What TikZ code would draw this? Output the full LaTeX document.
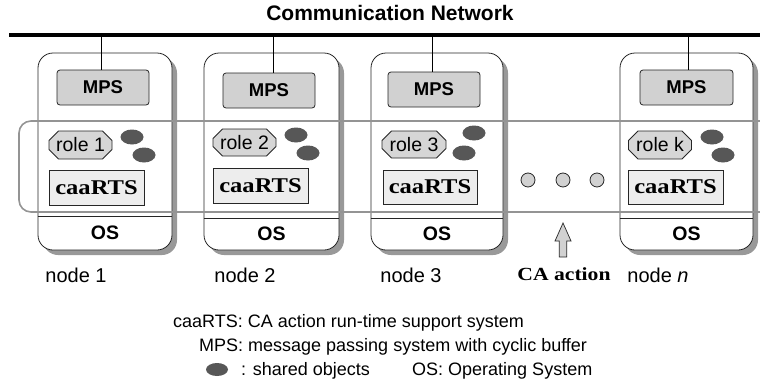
\documentclass[tikz,border=0pt]{standalone}
\usepackage{fontspec}
\setmainfont{Liberation Sans}
\newfontfamily\wideserif[FakeStretch=1.17]{Liberation Serif}
\usetikzlibrary{shapes.misc,shapes.geometric,shadows}

\newcommand{\fs}[1]{\fontsize{#1}{#1}\selectfont}

\begin{document}
\begin{tikzpicture}[x=1pt,y=-1pt,
  edge/.style={draw=black!85, line width=0.8pt},
  nodebox/.style={edge, fill=white, rounded corners=15pt, inner sep=0pt,
    minimum width=#1, minimum height=197pt,
    drop shadow={shadow xshift=5pt, shadow yshift=-5pt, fill=black!40, opacity=1}},
  mpsbox/.style={edge, fill=black!18, rounded corners=3pt, inner sep=0pt,
    minimum width=92pt, minimum height=35pt, font=\bfseries\fs{18.5}},
  rolebox/.style={edge, fill=black!16, chamfered rectangle, chamfered rectangle xsep=6pt,
    inner sep=0pt, minimum width=63pt, minimum height=28pt, font=\fs{19.5}},
  sharedobj/.style={ellipse, fill=black!66, inner sep=0pt, minimum width=23pt, minimum height=15pt},
  rtsbox/.style={edge, fill=black!7, inner sep=0pt, minimum width=95pt, minimum height=35pt,
    font=\wideserif\bfseries\fs{21}},
  ostext/.style={inner sep=0pt, font=\bfseries\fs{19.5}},
  nodelabel/.style={anchor=base, inner sep=0pt, font=\fs{20}},
  legendtext/.style={anchor=base west, inner sep=0pt, font=\fs{18}},
  waitdot/.style={circle, edge, fill=black!18, minimum size=14pt, inner sep=0pt},
  boundary/.style={draw=black!42, line width=1.6pt, rounded corners=12pt},
  link/.style={draw=black, line width=0.8pt}
]
\useasboundingbox (0,0) rectangle (760,383);

% title and network bus
\node[anchor=base, inner sep=0pt, font=\bfseries\fs{21}] (title) at (390,20) {Communication Network};
\coordinate (netL) at (9,34.5);
\coordinate (netR) at (760,34.5);
\draw[line width=4pt] (netL) -- (netR);

% node frames
\node[nodebox=134pt] (n1) at (105,151.5) {};
\node[nodebox=135pt] (n2) at (271.5,151.5) {};
\node[nodebox=132pt] (n3) at (437,151.5) {};
\node[nodebox=133pt] (n4) at (686.5,151.5) {};

% OS separators
\draw[edge] (n1.west |- 0,216) -- (n1.east |- 0,216);
\draw[edge] (n2.west |- 0,218) -- (n2.east |- 0,218);
\draw[edge] (n3.west |- 0,218) -- (n3.east |- 0,218);
\draw[edge] (n4.west |- 0,218) -- (n4.east |- 0,218);

% CA action boundary
\draw[boundary] (760,121) -- (19,121) -- (19,212) -- (760,212);

% message passing systems
\node[mpsbox] (mps1) at (103,87.5) {MPS};
\node[mpsbox] (mps2) at (269,90.5) {MPS};
\node[mpsbox] (mps3) at (434,89.5) {MPS};
\node[mpsbox, minimum width=93pt] (mps4) at (686.5,87.5) {MPS};

% links to the bus
\coordinate (t1) at (101,34.5);
\coordinate (t2) at (273,34.5);
\coordinate (t3) at (432,34.5);
\coordinate (t4) at (688,34.5);
\draw[link] (t1) -- (t1 |- mps1.north);
\draw[link] (t2) -- (t2 |- mps2.north);
\draw[link] (t3) -- (t3 |- mps3.north);
\draw[link] (t4) -- (t4 |- mps4.north);

% roles
\node[rolebox] (role1) at (80.5,145) {role 1};
\node[rolebox, minimum height=27pt] (role2) at (244.5,142.5) {role 2};
\node[rolebox, minimum height=27pt, minimum width=64pt] (role3) at (414,144.5) {role 3};
\node[rolebox] (role4) at (660,145) {role k};

% shared objects
\node[sharedobj] (o1a) at (132,137) {};
\node[sharedobj] (o1b) at (144,155) {};
\node[sharedobj] (o2a) at (296,135) {};
\node[sharedobj] (o2b) at (308,153) {};
\node[sharedobj] (o3a) at (474,133) {};
\node[sharedobj] (o3b) at (464,153) {};
\node[sharedobj] (o4a) at (712,137) {};
\node[sharedobj] (o4b) at (723,155) {};

% run-time support systems
\node[rtsbox] (rts1) at (96.5,187.5) {caaRTS};
\node[rtsbox] (rts2) at (260.5,185.5) {caaRTS};
\node[rtsbox, minimum width=94pt, minimum height=34pt] (rts3) at (430,187) {caaRTS};
\node[rtsbox, minimum height=34pt] (rts4) at (675.5,187) {caaRTS};

% operating systems
\node[ostext] (os1) at (105,233) {OS};
\node[ostext] (os2) at (271.5,234) {OS};
\node[ostext] (os3) at (437,234) {OS};
\node[ostext] (os4) at (686.5,234) {OS};

% further nodes
\node[waitdot] (d1) at (528,180) {};
\node[waitdot] (d2) at (563,180) {};
\node[waitdot] (d3) at (597,180) {};

% CA action pointer
\draw[edge, fill=black!18, line width=0.7pt] (563,223) -- (571,241) -- (566.7,241) -- (566.7,257)
  -- (559.3,257) -- (559.3,241) -- (555,241) -- cycle;

% node names
\node[nodelabel] (lab1) at (76,282) {node 1};
\node[nodelabel] (lab2) at (245,282) {node 2};
\node[nodelabel] (lab3) at (411,282) {node 3};
\node[anchor=base, inner sep=0pt, font=\wideserif\bfseries\fs{18.5}] (labca) at (564,280) {CA action};
\node[nodelabel] (lab4) at (658,282) {node \textit{n}};

% legend
\node[legendtext] (leg1) at (173,327) {caaRTS: CA action run-time support system};
\node[legendtext] (leg2) at (199,351.5) {MPS: message passing system with cyclic buffer};
\node[sharedobj, minimum width=22pt, minimum height=13pt] (legobj) at (217,369.5) {};
\node[legendtext] (leg3) at (241,375) {: shared objects};
\node[legendtext] (leg4) at (412,375) {OS: Operating System};
\end{tikzpicture}
\end{document}
